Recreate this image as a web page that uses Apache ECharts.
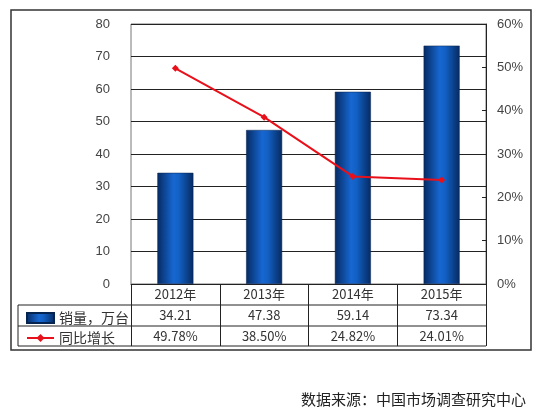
<!DOCTYPE html>
<html>
<head>
<meta charset="utf-8">
<script src="https://cdn.jsdelivr.net/npm/echarts@6/dist/echarts.min.js"></script>
<style>
  html, body { margin: 0; padding: 0; background: #fff; }
  #main { width: 550px; height: 414px; }
</style>
</head>
<body>
<div id="main"></div>
<script>
// 数据
var years = ['2012年', '2013年', '2014年', '2015年'];
var sales = [34.21, 47.38, 59.14, 73.34];     // 销量，万台
var growth = [49.78, 38.50, 24.82, 24.01];    // 同比增长 %
var leftTicks = [0, 80, 10];
var rightTicks = [0, 60, 10];

var cjk = '"Noto Sans CJK SC", sans-serif';
var barColor = new echarts.graphic.LinearGradient(0, 0, 1, 0, [
  { offset: 0, color: '#062a62' },
  { offset: 0.45, color: '#1767d2' },
  { offset: 0.6, color: '#1260c4' },
  { offset: 1, color: '#062a62' }
]);

var myChart = echarts.init(document.getElementById('main'));
var option = {
  animation: false,
  backgroundColor: '#fff',
  grid: {
    left: 131, right: 64, top: 24, bottom: 130,
    show: true, borderColor: '#777', borderWidth: 1
  },
  legend: {
    orient: 'vertical',
    left: 21, top: 306,
    itemWidth: 27, itemHeight: 10, itemGap: 6,
    textStyle: { fontSize: 14, color: '#333', fontFamily: cjk },
    data: [{ name: '销量，万台', icon: 'rect' }, { name: '同比增长' }]
  },
  xAxis: {
    type: 'category',
    data: years,
    axisLine: { show: true, lineStyle: { color: '#222' } },
    axisTick: { show: true, length: 62, lineStyle: { color: '#222' } },
    axisLabel: {
      margin: 0,
      lineHeight: 21,
      fontSize: 13,
      color: '#333',
      fontFamily: cjk,
      formatter: function (v, i) {
        return v + '\n' + sales[i].toFixed(2) + '\n' + growth[i].toFixed(2) + '%';
      }
    }
  },
  yAxis: [
    {
      type: 'value',
      min: leftTicks[0], max: leftTicks[1], interval: leftTicks[2],
      axisLine: { show: false },
      axisTick: { show: false },
      splitLine: { lineStyle: { color: '#222' } },
      axisLabel: { margin: 21, fontSize: 13, color: '#444', fontFamily: 'Arial, "Liberation Sans"' }
    },
    {
      type: 'value',
      min: rightTicks[0], max: rightTicks[1], interval: rightTicks[2],
      axisLine: { show: true, lineStyle: { color: '#222' } },
      axisTick: { show: true, inside: true, length: 4, lineStyle: { color: '#222' } },
      splitLine: { show: false },
      axisLabel: { margin: 11, fontSize: 13, color: '#444', fontFamily: 'Arial, "Liberation Sans"', formatter: '{value}%' }
    }
  ],
  series: [
    {
      name: '销量，万台',
      type: 'bar',
      barWidth: 36,
      data: sales,
      itemStyle: { color: barColor, borderColor: '#062450', borderWidth: 0.5 }
    },
    {
      name: '同比增长',
      type: 'line',
      yAxisIndex: 1,
      data: growth,
      symbol: 'diamond',
      symbolSize: 7,
      lineStyle: { color: '#e8101a', width: 2 },
      itemStyle: { color: '#e8101a' }
    }
  ],
  graphic: [
    // 外框
    { type: 'rect', shape: { x: 11, y: 10, width: 520, height: 340 }, style: { fill: 'none', stroke: '#333', lineWidth: 1.5 }, z: 100 },
    // 表格线
    { type: 'line', shape: { x1: 18, y1: 305, x2: 486, y2: 305 }, style: { stroke: '#222', lineWidth: 1 }, z: 100 },
    { type: 'line', shape: { x1: 18, y1: 326, x2: 486, y2: 326 }, style: { stroke: '#222', lineWidth: 1 }, z: 100 },
    { type: 'line', shape: { x1: 18, y1: 346, x2: 486, y2: 346 }, style: { stroke: '#222', lineWidth: 1 }, z: 100 },
    { type: 'line', shape: { x1: 18, y1: 305, x2: 18, y2: 346 }, style: { stroke: '#222', lineWidth: 1 }, z: 100 },
    // 数据来源
    { type: 'text', left: 301, top: 392, style: { text: '数据来源：中国市场调查研究中心', fontSize: 15, fill: '#222', fontFamily: cjk } }
  ]
};
myChart.setOption(option);
</script>
</body>
</html>
